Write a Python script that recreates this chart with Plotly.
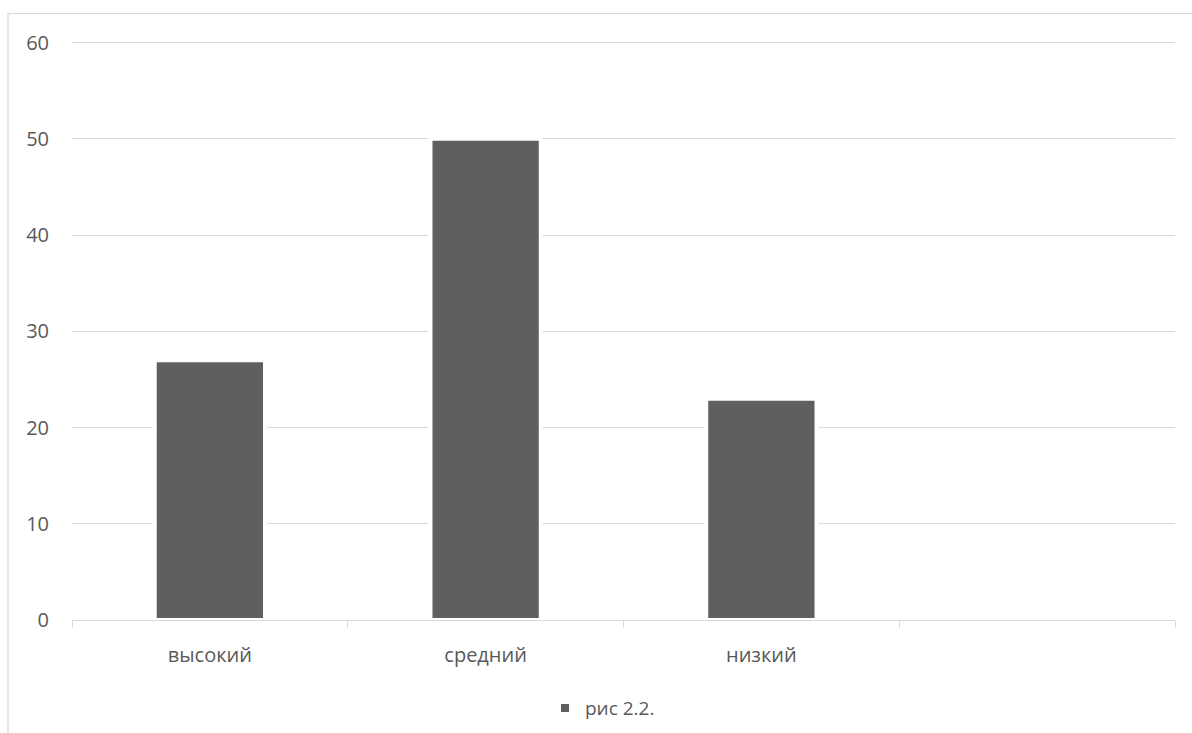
import plotly.graph_objects as go

categories = ["высокий", "средний", "низкий", " "]
values = [27, 50, 23, None]
series_name = "рис 2.2."
y_ticks = [0, 10, 20, 30, 40, 50, 60]

W, H = 1192, 733
y_top = 61
px_per_unit = 577 / 60
L, R, B = 72, 17, 113
T = 43 - (y_top - 60) * px_per_unit
pw, ph = W - L - R, H - T - B

fig = go.Figure()
fig.add_trace(go.Bar(
    x=categories, y=values, name=series_name,
    width=0.4,
    marker=dict(color="#5f5f5f", line=dict(color="#ffffff", width=4)),
    showlegend=True,
))

font_family = "Open Sans"
fig.update_layout(
    width=W, height=H,
    margin=dict(l=L, r=R, t=T, b=B, pad=0, autoexpand=False),
    paper_bgcolor="white", plot_bgcolor="white",
    font=dict(family=font_family, size=20, color="#595959"),
    showlegend=True,
    legend=dict(orientation="h", x=(602.5 - L) / pw, xanchor="center",
                y=-(708 - (H - B)) / ph, yanchor="middle",
                font=dict(size=19, color="#595959"), itemwidth=30),
    xaxis=dict(
        type="category", categoryorder="array", categoryarray=categories,
        range=[-0.5, 3.5], tickson="boundaries", ticks="outside", ticklen=7,
        tickcolor="#d9d9d9", tickwidth=1.3,
        showline=True, linecolor="#d9d9d9", linewidth=1.3,
        showgrid=False, zeroline=False, ticklabelstandoff=17,
        tickfont=dict(size=20, color="#595959"), automargin=False,
    ),
    yaxis=dict(
        range=[0, y_top], tickvals=y_ticks, showgrid=True, gridcolor="#d9d9d9",
        gridwidth=1.3, zeroline=False, showline=False, ticks="",
        ticklabelstandoff=22, tickfont=dict(size=20, color="#595959"),
        automargin=False,
    ),
    shapes=[dict(
        type="rect", xref="paper", yref="paper", layer="below",
        x0=(8 - L) / pw, x1=(W + 5 - L) / pw,
        y0=-(B + 10) / ph, y1=1 + (T - 14) / ph,
        line=dict(color="#d9d9d9", width=1.3), fillcolor="rgba(0,0,0,0)",
    )],
)

fig.write_html("out.html", config={"displayModeBar": False},
               post_script="document.body.style.margin='0';")
